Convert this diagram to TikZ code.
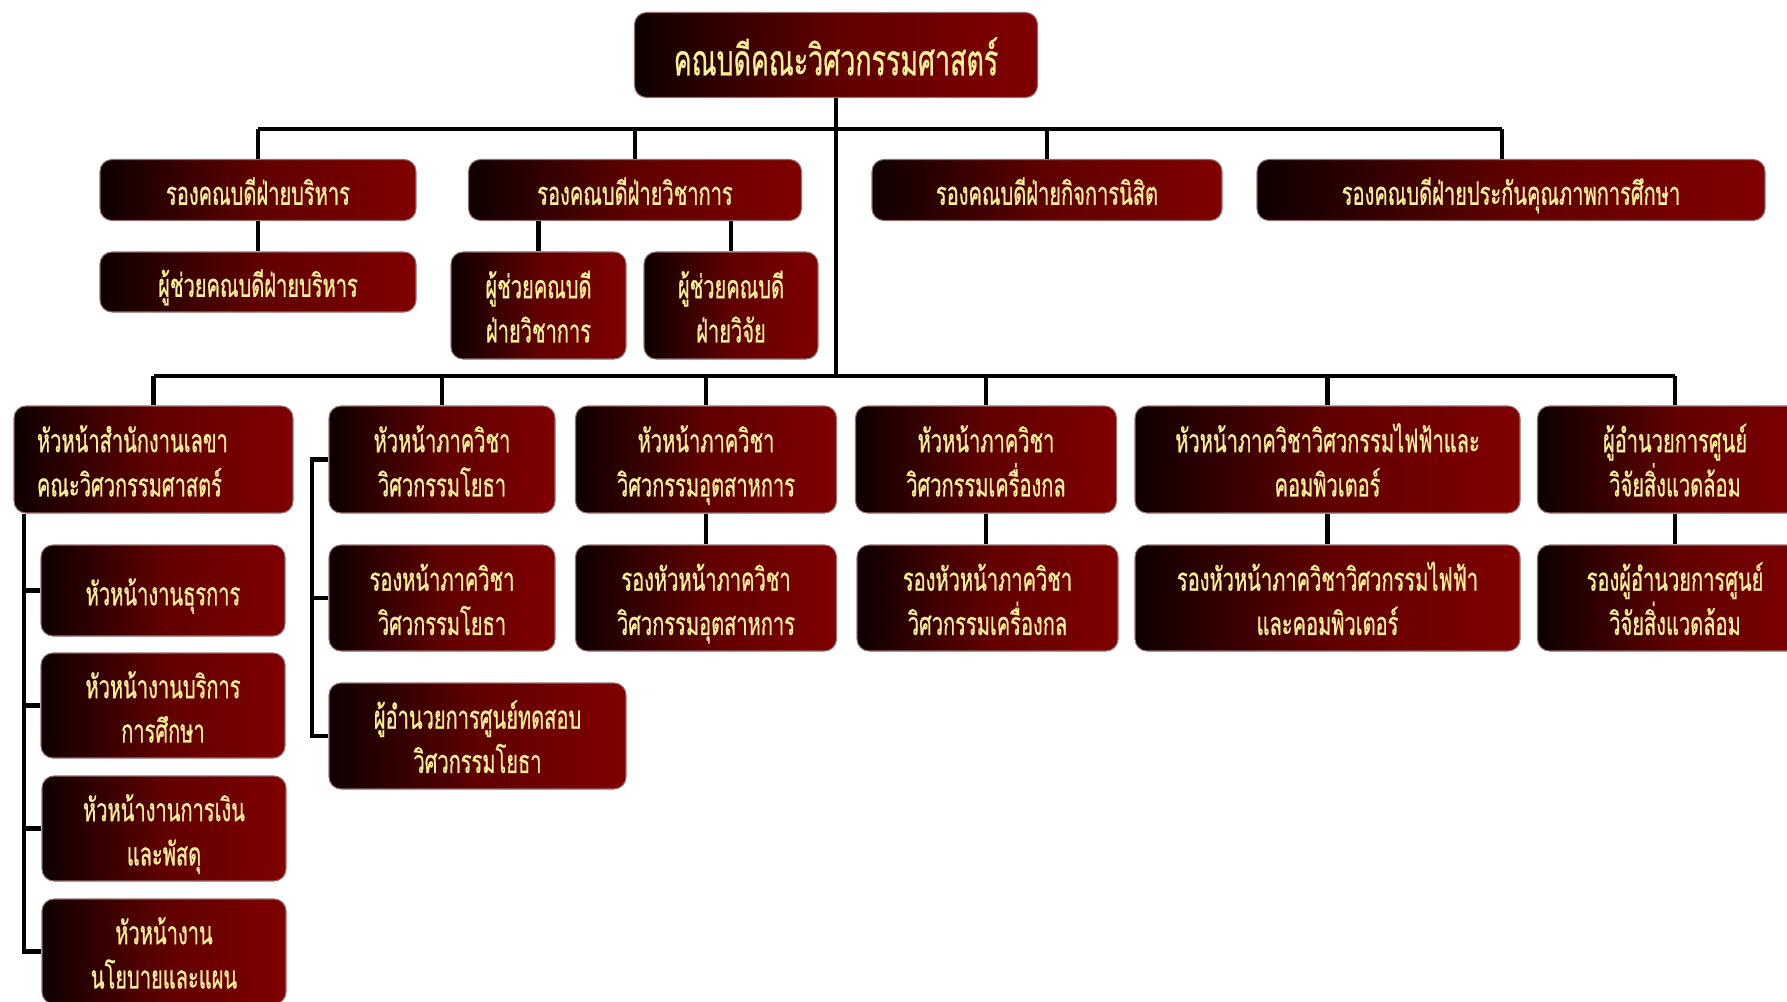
\documentclass[tikz,border=0pt]{standalone}
\usepackage{fontspec}
\newfontfamily\thaifont[Script=Thai,FakeStretch=0.62,FakeBold=0.6]{Loma}
\definecolor{boxdark}{RGB}{14,0,0}
\definecolor{boxred}{RGB}{128,0,0}
\definecolor{boxedge}{RGB}{150,110,110}
\definecolor{boxtext}{RGB}{255,242,150}
\newlength\boxdrop
\tikzset{
  unit/.style={rounded corners=0.12cm, left color=boxdark, right color=boxred,
    middle color=boxred!72!boxdark, draw=boxedge, line width=0.3pt,
    text=boxtext, align=center, inner sep=0pt,
    /utils/exec={\setlength\boxdrop{3.4pt}},
    execute at begin node={\rule{0pt}{\dimexpr0.7\baselineskip+\boxdrop\relax}},
    execute at end node=\strut,
    font=\thaifont\fontsize{9.2}{12.6}\selectfont},
  boxsize/.style 2 args={minimum width=#1cm, minimum height=#2cm, text width=#1cm},
  link/.style={line width=1.4pt, black},
}
\begin{document}
\begin{tikzpicture}

\useasboundingbox (0,0) rectangle (17.87,-10.02);
\clip (0,0) rectangle (17.87,-10.02);

\coordinate (busA) at (0,-1.29);
\coordinate (busB) at (0,-3.76);
\coordinate (qaTop) at (15.02,-1.29);
\coordinate (secRail) at (0.24,0);
\coordinate (civRail) at (3.12,0);

\node[unit, boxsize={4.03}{0.85}, /utils/exec={\setlength\boxdrop{6pt}}, font=\thaifont\fontsize{12.3}{14}\selectfont] (dean) at (8.36,-0.55) {คณบดีคณะวิศวกรรมศาสตร์};

\node[unit, boxsize={3.16}{0.61}] (vpAdmin) at (2.58,-1.90) {รองคณบดีฝ่ายบริหาร};
\node[unit, boxsize={3.33}{0.61}] (vpAcad) at (6.35,-1.90) {รองคณบดีฝ่ายวิชาการ};
\node[unit, boxsize={3.50}{0.61}] (vpStudent) at (10.47,-1.90) {รองคณบดีฝ่ายกิจการนิสิต};
\node[unit, boxsize={5.08}{0.61}] (vpQa) at (15.11,-1.90) {รองคณบดีฝ่ายประกันคุณภาพการศึกษา};

\node[unit, boxsize={3.16}{0.60}] (asAdmin) at (2.58,-2.82) {ผู้ช่วยคณบดีฝ่ายบริหาร};
\node[unit, boxsize={1.75}{1.07}] (asAcad) at (5.385,-3.055) {ผู้ช่วยคณบดี\\ฝ่ายวิชาการ};
\node[unit, boxsize={1.74}{1.07}] (asResearch) at (7.31,-3.055) {ผู้ช่วยคณบดี\\ฝ่ายวิจัย};

\node[unit, boxsize={2.79}{1.07}, align=left, text width=2.33cm] (secHead) at (1.535,-4.595) {หัวหน้าสำนักงานเลขา\\คณะวิศวกรรมศาสตร์};
\node[unit, boxsize={2.26}{1.07}] (civHead) at (4.42,-4.595) {หัวหน้าภาควิชา\\วิศวกรรมโยธา};
\node[unit, boxsize={2.61}{1.07}] (indHead) at (7.06,-4.595) {หัวหน้าภาควิชา\\วิศวกรรมอุตสาหการ};
\node[unit, boxsize={2.61}{1.07}] (mechHead) at (9.86,-4.595) {หัวหน้าภาควิชา\\วิศวกรรมเครื่องกล};
\node[unit, boxsize={3.85}{1.07}] (eeHead) at (13.275,-4.595) {หัวหน้าภาควิชาวิศวกรรมไฟฟ้าและ\\คอมพิวเตอร์};
\node[unit, boxsize={2.75}{1.07}] (envHead) at (16.75,-4.595) {ผู้อำนวยการศูนย์\\วิจัยสิ่งแวดล้อม};

\node[unit, boxsize={2.26}{1.06}] (civDep) at (4.42,-5.98) {รองหน้าภาควิชา\\วิศวกรรมโยธา};
\node[unit, boxsize={2.61}{1.06}] (indDep) at (7.06,-5.98) {รองหัวหน้าภาควิชา\\วิศวกรรมอุตสาหการ};
\node[unit, boxsize={2.61}{1.06}] (mechDep) at (9.875,-5.98) {รองหัวหน้าภาควิชา\\วิศวกรรมเครื่องกล};
\node[unit, boxsize={3.85}{1.06}] (eeDep) at (13.275,-5.98) {รองหัวหน้าภาควิชาวิศวกรรมไฟฟ้า\\และคอมพิวเตอร์};
\node[unit, boxsize={2.75}{1.06}] (envDep) at (16.75,-5.98) {รองผู้อำนวยการศูนย์\\วิจัยสิ่งแวดล้อม};
\node[unit, boxsize={2.97}{1.06}] (civTest) at (4.775,-7.36) {ผู้อำนวยการศูนย์ทดสอบ\\วิศวกรรมโยธา};

\node[unit, boxsize={2.44}{0.91}] (secGen) at (1.63,-5.905) {หัวหน้างานธุรการ};
\node[unit, boxsize={2.44}{1.05}] (secEdu) at (1.63,-7.055) {หัวหน้างานบริการ\\การศึกษา};
\node[unit, boxsize={2.44}{1.05}] (secFin) at (1.64,-8.285) {หัวหน้างานการเงิน\\และพัสดุ};
\node[unit, boxsize={2.44}{1.05}] (secPlan) at (1.64,-9.515) {หัวหน้างาน\\นโยบายและแผน};

\draw[link] (dean.south) -- (dean |- busB);
\draw[link] (vpAdmin |- busA) -- (qaTop);
\draw[link] (vpAdmin |- busA) -- (vpAdmin.north);
\draw[link] (vpAcad |- busA) -- (vpAcad.north);
\draw[link] (vpStudent |- busA) -- (vpStudent.north);
\draw[link] (qaTop) -- (qaTop |- vpQa.north);
\draw[link] (vpAdmin.south) -- (asAdmin.north);
\draw[link] (vpAcad.south -| asAcad) -- (asAcad.north);
\draw[link] (vpAcad.south -| asResearch) -- (asResearch.north);

\draw[link] (secHead |- busB) -- (envHead |- busB);
\foreach \n in {secHead, civHead, indHead, mechHead, eeHead, envHead}
  \draw[link] (\n |- busB) -- (\n.north);
\draw[link] (indHead.south) -- (indDep.north);
\draw[link] (mechHead.south) -- (mechHead.south |- mechDep.north);
\draw[link] (eeHead.south) -- (eeDep.north);
\draw[link] (envHead.south) -- (envDep.north);

\draw[link] (secRail |- secHead.south) -- (secRail |- secPlan.west) -- (secPlan.west);
\foreach \n in {secGen, secEdu, secFin}
  \draw[link] (secRail |- \n.west) -- (\n.west);
\draw[link] (civHead.west) -- (civRail |- civHead.west) -- (civRail |- civTest.west) -- (civTest.west);
\draw[link] (civRail |- civDep.west) -- (civDep.west);

\end{tikzpicture}
\end{document}
